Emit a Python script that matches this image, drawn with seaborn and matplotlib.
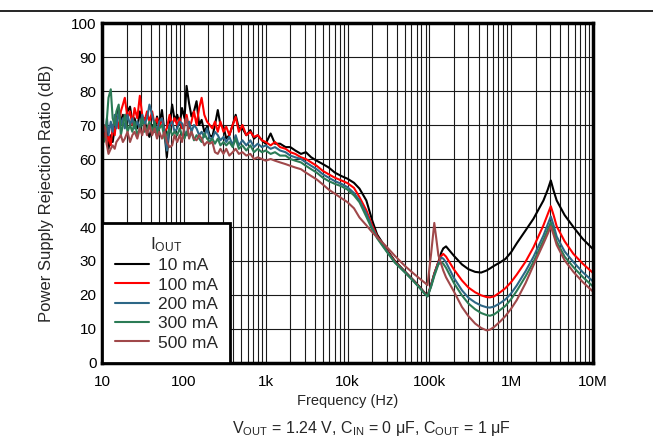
"""
PSRR vs frequency for five output currents (datasheet style plot).
Values read off the reference picture by eye.
"""

import pandas as pd
import matplotlib
matplotlib.use("Agg")
import matplotlib.pyplot as plt
from matplotlib.lines import Line2D
from matplotlib.ticker import LogLocator, NullFormatter
import seaborn as sns

sns.set_style("white")
plt.rcParams["font.family"] = ["Liberation Sans", "DejaVu Sans"]
plt.rcParams["mathtext.default"] = "regular"

# ------------------------------------------------------------------
# Data (dB), low band is noisy, high band is the smooth roll-off part
# ------------------------------------------------------------------
freq_low = [10, 10.5, 11, 11.5, 12, 12.8, 13.5, 14.3, 15, 16,
            17, 18, 19, 20.5, 22, 23.5, 25, 27, 29, 31,
            33, 35.5, 38, 41, 44, 47, 50, 54, 58, 62,
            67, 72, 77, 83, 89, 95, 102, 108, 116, 124,
            133, 143, 154, 165, 178, 192, 207, 223, 240, 260,
            280, 305, 330, 360, 395, 430, 470, 520, 580, 650,
            720, 800, 900, 1000, 1150, 1300, 1500, 1750, 2000, 2300,
            2700, 3100, 3600, 4200, 5000, 5900, 7000, 8400]

freq_high = [10e3, 12e3, 14e3, 17e3, 20e3, 23e3, 30e3, 38e3, 50e3, 65e3,
             80e3, 88e3, 95e3, 105e3, 115e3, 129e3, 140e3, 148e3, 160e3, 200e3,
             250e3, 300e3, 363e3, 430e3, 500e3, 550e3, 620e3, 733e3, 850e3, 1e6,
             1.17e6, 1.5e6, 1.87e6, 2.48e6, 2.8e6, 3.05e6, 3.3e6, 3.6e6, 4.5e6, 5.76e6,
             7.5e6, 10e6]

currents = ["10 mA", "100 mA", "200 mA", "300 mA", "500 mA"]
colors = ["#000000", "#ff0000", "#2d6786", "#2b7b55", "#a0484a"]

psrr_10ma_low = [72, 69, 66, 70, 63, 67, 65, 69, 73, 75,
                 71, 73, 71.5, 74, 75.4, 71, 72, 69, 74, 70.5,
                 72, 68, 66.5, 70, 68, 72.5, 70, 74.4, 68, 60.5,
                 70, 76, 71.5, 73, 70, 75, 72, 81.5, 76.3, 72.5,
                 74, 77, 70, 71.5, 68, 69.5, 67, 66.5, 70, 74.4,
                 70, 69.5, 66, 67, 70, 73, 69, 69, 67, 68.5,
                 66, 67, 65.5, 64.5, 67.5, 64.5, 64.5, 63.5, 63.5, 62.5,
                 61.5, 62, 60.5, 59.5, 58.5, 57.5, 56, 55]
psrr_100ma_low = [63, 66, 68, 64, 67, 64, 70, 67, 72, 69,
                  74, 76, 78, 72, 74, 70, 75, 72, 78.6, 73,
                  71, 74, 71, 74, 70, 72, 69, 72, 68, 69,
                  73, 70, 72, 70, 72, 69, 70, 73, 69, 71,
                  74, 70, 75, 78, 73, 71, 70, 69, 71, 68,
                  71, 68, 69.5, 67, 70, 72.4, 68, 70, 67, 68,
                  66.5, 67, 65.5, 65, 64, 65, 63.5, 63, 62, 61.5,
                  60.5, 60, 59, 58, 56.5, 55.5, 54.5, 53.7]
psrr_200ma_low = [66, 70, 68, 72, 67, 71, 68, 73, 69, 74,
                  70, 72, 69, 73, 70, 72, 69, 71, 69, 73,
                  70, 72, 76, 73, 70, 68, 71, 72, 68, 62.5,
                  70, 71, 68, 69, 71, 70.5, 68, 67, 71, 68,
                  70, 69, 67, 68, 66.5, 69, 66, 66, 68, 67,
                  65.5, 66.5, 65, 66.5, 64, 67, 64, 65.5, 64, 65.5,
                  63.5, 64.5, 63.5, 64, 63, 63.5, 62.5, 62, 61, 60.5,
                  60, 59, 58, 57, 55.5, 54.5, 53.5, 52.7]
psrr_300ma_low = [68, 65, 66, 72, 78, 80.5, 72, 70, 74, 76,
                  67, 70, 73, 68, 70, 68, 71, 67, 69, 72,
                  68, 69, 71, 68, 71, 67, 69, 70, 66, 67,
                  69, 67, 68, 67, 69, 67, 66, 68, 66.5, 68,
                  65.5, 67, 66, 65, 67.5, 66, 65, 66, 64.5, 66,
                  64, 65, 64, 65, 63.5, 66, 63, 64, 62.5, 64,
                  62, 63, 62, 62.5, 61.5, 62, 61, 61, 60, 59.5,
                  59, 58, 57, 56, 54.5, 53.5, 52.7, 52]
psrr_500ma_low = [66, 70, 69, 64, 61.5, 63, 64, 63, 65, 66,
                  67, 65, 66, 68, 65, 67, 68, 66, 69, 67,
                  70, 67, 70, 67, 69, 66, 68, 66, 68, 65,
                  63.5, 64, 67, 65, 67, 65, 70, 72, 66, 68,
                  66, 65.5, 67, 66, 64, 65, 64.5, 65, 62, 61.5,
                  63, 61.5, 63, 61, 62, 63, 61.5, 62, 61, 61.5,
                  60, 60.5, 60, 59.5, 60, 59.5, 59, 58.5, 58, 57.5,
                  57, 56, 55, 54, 52.5, 51, 49.8, 48.5]

psrr_10ma_high = [54.2, 53.0, 51.3, 47.8, 42.0, 37.8, 33.5, 30.0, 27.0, 24.2,
                  21.8, 20.6, 19.7, 22.9, 26.3, 29.7, 32.5, 33.7, 34.3, 31.5,
                  29.0, 27.6, 26.8, 26.6, 27.2, 27.8, 28.6, 29.6, 30.6, 32.6,
                  35.2, 39.0, 42.4, 47.8, 51.0, 53.7, 50.7, 47.8, 43.5, 40.0,
                  36.5, 33.5]
psrr_100ma_high = [52.9, 51.5, 48.8, 44.9, 40.5, 37.3, 33.2, 29.8, 26.9, 24.1,
                   21.7, 20.5, 19.7, 22.9, 26.3, 29.7, 31.5, 32.1, 31.3, 27.5,
                   24.3, 22.2, 20.8, 19.9, 19.4, 19.3, 19.6, 20.8, 22.0, 23.8,
                   26.0, 29.8, 34.0, 40.5, 43.8, 46.1, 43.5, 40.2, 35.8, 32.1,
                   29.2, 26.5]
psrr_200ma_high = [51.7, 50.0, 47.8, 44.0, 39.8, 37.0, 33.0, 29.6, 26.8, 24.0,
                   21.6, 20.4, 19.6, 22.7, 26.0, 29.4, 31.0, 30.7, 29.6, 25.0,
                   21.4, 19.2, 17.8, 16.9, 16.4, 16.3, 16.6, 17.6, 18.7, 20.5,
                   22.8, 27.0, 31.2, 37.5, 40.8, 43.1, 40.5, 37.2, 32.8, 29.7,
                   26.7, 24.0]
psrr_300ma_high = [51.0, 49.3, 47.3, 43.0, 39.3, 36.7, 32.8, 29.5, 26.7, 23.9,
                   21.5, 20.3, 19.6, 22.4, 25.6, 29.0, 29.7, 29.2, 28.0, 23.5,
                   19.9, 17.5, 15.8, 14.7, 14.1, 13.9, 14.3, 15.6, 16.8, 18.8,
                   21.2, 25.5, 29.7, 36.1, 39.2, 41.4, 38.8, 35.7, 31.3, 28.2,
                   25.3, 22.5]
psrr_500ma_high = [47.3, 45.5, 42.8, 40.5, 38.5, 37.0, 34.2, 31.5, 28.6, 26.2,
                   24.4, 23.6, 22.9, 32.0, 41.2, 31.7, 29.0, 27.2, 25.2, 21.0,
                   16.5, 13.8, 11.6, 10.3, 9.6, 9.8, 10.6, 12.2, 13.8, 16.0,
                   18.5, 23.5, 28.7, 35.1, 38.0, 40.2, 37.7, 34.7, 30.2, 26.8,
                   23.8, 21.0]

low_sets = [psrr_10ma_low, psrr_100ma_low, psrr_200ma_low, psrr_300ma_low, psrr_500ma_low]
high_sets = [psrr_10ma_high, psrr_100ma_high, psrr_200ma_high, psrr_300ma_high, psrr_500ma_high]

# long format table for seaborn
frames = []
for name, lo, hi in zip(currents, low_sets, high_sets):
    assert len(lo) == len(freq_low) and len(hi) == len(freq_high), name
    frames.append(pd.DataFrame({"freq": freq_low + freq_high,
                                "psrr": lo + hi,
                                "current": name}))
df = pd.concat(frames, ignore_index=True)

# ------------------------------------------------------------------
# Plot
# ------------------------------------------------------------------
fig = plt.figure(figsize=(6.53, 4.40), dpi=100)
ax = fig.add_axes([102 / 653, 1 - 363 / 440, 491 / 653, 340 / 440])

sns.lineplot(data=df, x="freq", y="psrr", hue="current", hue_order=currents,
             palette=dict(zip(currents, colors)), estimator=None, sort=False,
             lw=1.5, ax=ax)

ax.set_xscale("log")
ax.set_xlim(10, 1e7)
ax.set_ylim(0, 100)
ax.set_yticks(range(0, 101, 10))
ax.set_xticks([10, 100, 1e3, 1e4, 1e5, 1e6, 1e7])
ax.set_xticklabels(["10", "100", "1k", "10k", "100k", "1M", "10M"])
ax.xaxis.set_minor_locator(LogLocator(base=10, subs=range(2, 10), numticks=20))
ax.xaxis.set_minor_formatter(NullFormatter())

ax.grid(which="both", axis="x", color="#1a1a1a", lw=0.8)
ax.grid(which="major", axis="y", color="#1a1a1a", lw=0.8)
ax.set_axisbelow(True)
ax.tick_params(which="both", length=0, labelsize=11, colors="black")
ax.tick_params(axis="y", pad=4)
ax.tick_params(axis="x", pad=9)
for sp in ax.spines.values():
    sp.set_linewidth(2.5)
    sp.set_color("black")

ax.set_xlabel("Frequency (Hz)", fontsize=10.5, labelpad=3)
ax.set_ylabel("Power Supply Rejection Ratio (dB)", fontsize=12, labelpad=12)

leg = ax.legend(title=r"$I_{OUT}$", loc="lower left", borderaxespad=0,
                frameon=True, fancybox=False, edgecolor="black", framealpha=1,
                fontsize=12.5, title_fontsize=12.5, handlelength=2.0,
                handletextpad=0.5, labelspacing=0.24, borderpad=0.72)
leg.get_frame().set_linewidth(2)

# test condition caption under the plot
fig.text(371 / 653, 1 - 428 / 440,
         r"$V_{OUT}$ = 1.24 V, $C_{IN}$ = 0 μF, $C_{OUT}$ = 1 μF",
         ha="center", va="center", fontsize=11.5)

# page rule above the plot
fig.add_artist(Line2D([0, 1], [1 - 11.5 / 440] * 2, transform=fig.transFigure,
                      color="black", lw=1.2))

fig.savefig("out.png", dpi=100)
